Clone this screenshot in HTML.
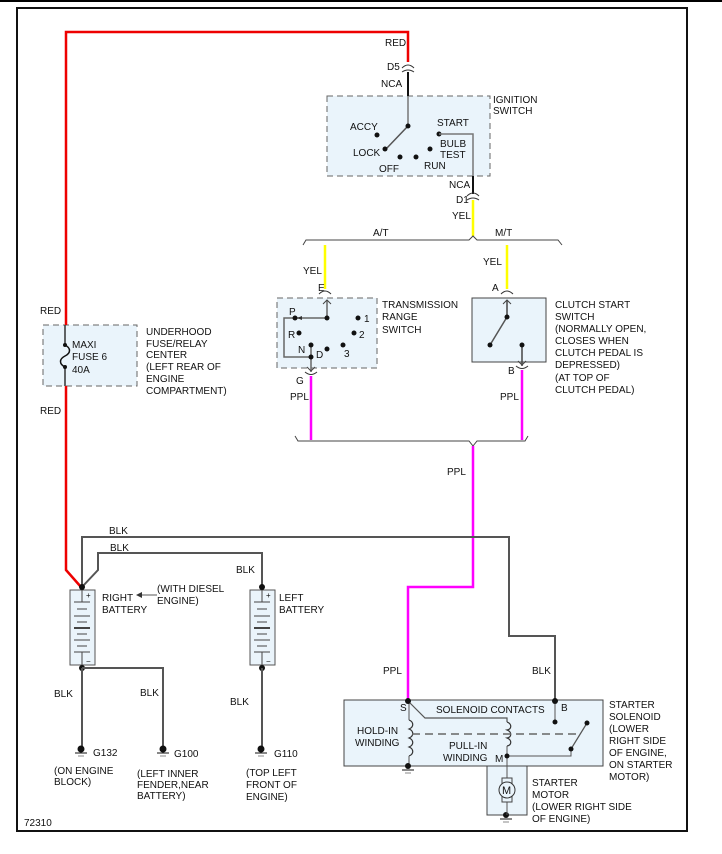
<!DOCTYPE html>
<html><head><meta charset="utf-8"><style>
html,body{margin:0;padding:0;background:#fff}
svg{display:block}
text{font-family:"Liberation Sans",sans-serif;font-size:10px;fill:#111}
</style></head><body>
<svg width="722" height="854" viewBox="0 0 722 854" xmlns="http://www.w3.org/2000/svg">
<rect x="0" y="0" width="722" height="854" fill="#fff"/>
<line x1="0" y1="1" x2="722" y2="1" stroke="#000" stroke-width="2"/>
<rect x="17" y="8" width="670" height="823" fill="none" stroke="#111" stroke-width="2"/>

<!-- boxes -->
<rect x="327" y="96" width="163" height="80" fill="#eaf4fb" stroke="#666" stroke-dasharray="6,4"/>
<rect x="277" y="298" width="100" height="70" fill="#eaf4fb" stroke="#666" stroke-dasharray="6,4"/>
<rect x="472" y="298" width="74" height="64" fill="#eaf4fb" stroke="#444"/>
<rect x="43" y="325" width="94" height="61" fill="#eaf4fb" stroke="#666" stroke-dasharray="6,4"/>
<rect x="344" y="700" width="259" height="66" fill="#eaf4fb" stroke="#444"/>
<rect x="487" y="766" width="40" height="49" fill="#eaf4fb" stroke="#444"/>
<rect x="70" y="590" width="25" height="75" fill="#eaf4fb" stroke="#555"/>
<rect x="250" y="590" width="25" height="75" fill="#eaf4fb" stroke="#555"/>

<!-- red wire -->
<polyline points="408,62 408,32 66,32 66,325" fill="none" stroke="#e00" stroke-width="2.5"/>
<polyline points="66,386 66,570 81,587" fill="none" stroke="#e00" stroke-width="2.5"/>
<line x1="65" y1="325" x2="65" y2="345" stroke="#333" stroke-width="1.5"/>
<path d="M65,345 c6,3 6,8 0,11 c-6,3 -6,8 0,11" fill="none" stroke="#111" stroke-width="1.5"/>
<line x1="65" y1="367" x2="65" y2="386" stroke="#333" stroke-width="1.5"/>
<circle cx="65" cy="345" r="2" fill="#111"/><circle cx="65" cy="367" r="2" fill="#111"/>

<!-- ignition -->
<path d="M402,68 q6,-6 12,0" fill="none" stroke="#333"/><path d="M402,72 q6,-4 12,0" fill="none" stroke="#333"/>
<line x1="408" y1="72" x2="408" y2="96" stroke="#111" stroke-width="2"/>
<line x1="408" y1="96" x2="408" y2="126" stroke="#777" stroke-width="1.5"/>
<line x1="408" y1="126" x2="386" y2="149" stroke="#555" stroke-width="1.5"/>
<g fill="#111"><circle cx="408" cy="126" r="2.5"/><circle cx="377" cy="135" r="2.5"/><circle cx="385" cy="149" r="2.5"/><circle cx="400" cy="157" r="2.5"/><circle cx="416" cy="157" r="2.5"/><circle cx="430" cy="149" r="2.5"/><circle cx="439" cy="134" r="2.5"/></g>
<polyline points="439,134 473,134 473,176" fill="none" stroke="#777" stroke-width="1.5"/>
<line x1="473" y1="176" x2="473" y2="194" stroke="#111" stroke-width="2"/>
<path d="M467,196 q6,-6 12,0" fill="none" stroke="#333"/><path d="M467,200 q6,-4 12,0" fill="none" stroke="#333"/>
<line x1="473" y1="200" x2="473" y2="236" stroke="#ff0" stroke-width="2.5"/>
<text x="385" y="46">RED</text><text x="387" y="70">D5</text><text x="381" y="87">NCA</text>
<text x="493" y="103">IGNITION</text><text x="493" y="114">SWITCH</text>
<text x="350" y="130">ACCY</text><text x="437" y="126">START</text><text x="440" y="147">BULB</text><text x="440" y="158">TEST</text>
<text x="353" y="156">LOCK</text><text x="379" y="172">OFF</text><text x="424" y="169">RUN</text>
<text x="449" y="188">NCA</text><text x="456" y="203">D1</text><text x="452" y="219">YEL</text>

<!-- upper bracket -->
<polyline points="303,245 306,240 469,240 473,236 477,240 558,240 562,245" fill="none" stroke="#444"/>
<text x="373" y="236">A/T</text><text x="495" y="236">M/T</text>

<!-- TRS -->
<line x1="325" y1="245" x2="325" y2="289" stroke="#ff0" stroke-width="2.5"/>
<text x="303" y="274">YEL</text><text x="318" y="291">E</text>
<path d="M319,294 q6,-6 12,0" fill="none" stroke="#333"/>
<line x1="327" y1="300" x2="327" y2="318" stroke="#666" stroke-width="1.5"/>
<path d="M323,304 l4,-4 l4,4" fill="none" stroke="#444"/>
<line x1="327" y1="318" x2="295" y2="318" stroke="#666" stroke-width="1.5"/>
<polygon points="297,318 302,316 302,320" fill="#333"/>
<polyline points="295,318 284,318 284,357 311,357 311,345" fill="none" stroke="#666" stroke-width="1.5"/>
<line x1="311" y1="357" x2="311" y2="372" stroke="#666" stroke-width="1.5"/>
<path d="M307,367 l4,4 l4,-4" fill="none" stroke="#444"/>
<path d="M305,372 q6,5 12,0" fill="none" stroke="#333"/>
<g fill="#111"><circle cx="327" cy="318" r="2.5"/><circle cx="295" cy="318" r="2.5"/><circle cx="358" cy="318" r="2.5"/><circle cx="299" cy="333" r="2.5"/><circle cx="354" cy="333" r="2.5"/><circle cx="311" cy="345" r="2.5"/><circle cx="327" cy="349" r="2.5"/><circle cx="343" cy="345" r="2.5"/><circle cx="311" cy="357" r="2.5"/></g>
<text x="289" y="315">P</text><text x="364" y="322">1</text><text x="288" y="338">R</text><text x="359" y="338">2</text><text x="298" y="353">N</text><text x="316" y="358">D</text><text x="344" y="357">3</text>
<text x="382" y="308">TRANSMISSION</text><text x="382" y="320">RANGE</text><text x="382" y="333">SWITCH</text>
<text x="296" y="384">G</text><text x="290" y="400">PPL</text>
<line x1="311" y1="376" x2="311" y2="440" stroke="#f0f" stroke-width="2.5"/>

<!-- clutch -->
<line x1="507" y1="245" x2="507" y2="289" stroke="#ff0" stroke-width="2.5"/>
<text x="483" y="265">YEL</text><text x="492" y="291">A</text>
<path d="M501,294 q6,-6 12,0" fill="none" stroke="#333"/>
<line x1="507" y1="300" x2="507" y2="317" stroke="#444" stroke-width="1.5"/>
<path d="M503,304 l4,-4 l4,4" fill="none" stroke="#444"/>
<line x1="507" y1="317" x2="490" y2="345" stroke="#555" stroke-width="1.5"/>
<line x1="522" y1="345" x2="522" y2="366" stroke="#444" stroke-width="1.5"/>
<path d="M518,361 l4,4 l4,-4" fill="none" stroke="#444"/>
<path d="M516,366 q6,5 12,0" fill="none" stroke="#333"/>
<g fill="#111"><circle cx="507" cy="317" r="2.5"/><circle cx="490" cy="345" r="2.5"/><circle cx="522" cy="345" r="2.5"/></g>
<text x="508" y="374">B</text><text x="500" y="400">PPL</text>
<line x1="522" y1="370" x2="522" y2="440" stroke="#f0f" stroke-width="2.5"/>
<g><text x="555" y="308">CLUTCH START</text><text x="555" y="320">SWITCH</text><text x="555" y="332">(NORMALLY OPEN,</text><text x="555" y="344">CLOSES WHEN</text><text x="555" y="356">CLUTCH PEDAL IS</text><text x="555" y="368">DEPRESSED)</text><text x="555" y="381">(AT TOP OF</text><text x="555" y="393">CLUTCH PEDAL)</text></g>

<!-- lower bracket -->
<polyline points="295,436 298,441 469,441 473,446 477,441 525,441 528,436" fill="none" stroke="#444"/>
<text x="447" y="475">PPL</text>
<polyline points="473,446 473,587 408,587 408,700" fill="none" stroke="#f0f" stroke-width="2.5"/>
<text x="383" y="674">PPL</text>

<!-- fuse labels -->
<text x="40" y="314">RED</text><text x="40" y="414">RED</text>
<text x="72" y="348">MAXI</text><text x="72" y="360">FUSE 6</text><text x="72" y="373">40A</text>
<g><text x="146" y="335">UNDERHOOD</text><text x="146" y="347">FUSE/RELAY</text><text x="146" y="358">CENTER</text><text x="146" y="370">(LEFT REAR OF</text><text x="146" y="382">ENGINE</text><text x="146" y="394">COMPARTMENT)</text></g>

<!-- BLK wires -->
<polyline points="82,587 82,537 509,537 509,636 555,636 555,700" fill="none" stroke="#555" stroke-width="2"/>
<polyline points="82,587 98,570 98,553 262,553 262,587" fill="none" stroke="#555" stroke-width="2"/>
<text x="109" y="534">BLK</text><text x="110" y="551">BLK</text><text x="236" y="573">BLK</text><text x="532" y="674">BLK</text>

<!-- batteries -->
<g stroke="#444" stroke-width="1">
<line x1="82" y1="590" x2="82" y2="602"/><line x1="74" y1="602" x2="90" y2="602"/><line x1="77" y1="609" x2="87" y2="609"/><line x1="74" y1="616" x2="90" y2="616"/><line x1="77" y1="622" x2="87" y2="622"/><line x1="74" y1="628" x2="90" y2="628" stroke-width="2"/><line x1="77" y1="634" x2="87" y2="634"/><line x1="74" y1="640" x2="90" y2="640"/><line x1="77" y1="646" x2="87" y2="646"/><line x1="74" y1="652" x2="90" y2="652"/><line x1="82" y1="652" x2="82" y2="665"/>
<line x1="262" y1="590" x2="262" y2="602"/><line x1="254" y1="602" x2="270" y2="602"/><line x1="257" y1="609" x2="267" y2="609"/><line x1="254" y1="616" x2="270" y2="616"/><line x1="257" y1="622" x2="267" y2="622"/><line x1="254" y1="628" x2="270" y2="628" stroke-width="2"/><line x1="257" y1="634" x2="267" y2="634"/><line x1="254" y1="640" x2="270" y2="640"/><line x1="257" y1="646" x2="267" y2="646"/><line x1="254" y1="652" x2="270" y2="652"/><line x1="262" y1="652" x2="262" y2="665"/>
</g>
<text x="86" y="598" style="font-size:8px">+</text><text x="86" y="664" style="font-size:8px">−</text>
<text x="266" y="598" style="font-size:8px">+</text><text x="266" y="664" style="font-size:8px">−</text>
<g fill="#111"><circle cx="82" cy="587" r="3"/><circle cx="82" cy="668" r="3"/><circle cx="262" cy="587" r="3"/><circle cx="262" cy="668" r="3"/></g>
<text x="102" y="601">RIGHT</text><text x="102" y="613">BATTERY</text>
<line x1="137" y1="595" x2="157" y2="595" stroke="#555"/><polygon points="136,595 142,592 142,598" fill="#333"/>
<text x="157" y="592">(WITH DIESEL</text><text x="157" y="604">ENGINE)</text>
<text x="279" y="601">LEFT</text><text x="279" y="613">BATTERY</text>

<polyline points="82,668 82,748" fill="none" stroke="#555" stroke-width="2"/>
<polyline points="82,668 163,668 163,748" fill="none" stroke="#555" stroke-width="2"/>
<polyline points="262,668 262,748" fill="none" stroke="#555" stroke-width="2"/>
<text x="54" y="697">BLK</text><text x="140" y="696">BLK</text><text x="230" y="705">BLK</text>
<g fill="#111" stroke="#111">
<circle cx="81" cy="749" r="3"/><line x1="75" y1="753" x2="87" y2="753"/><line x1="78" y1="756" x2="84" y2="756" stroke="#888"/>
<circle cx="163" cy="749" r="3"/><line x1="157" y1="753" x2="169" y2="753"/><line x1="160" y1="756" x2="166" y2="756" stroke="#888"/>
<circle cx="261" cy="749" r="3"/><line x1="255" y1="753" x2="267" y2="753"/><line x1="258" y1="756" x2="264" y2="756" stroke="#888"/>
</g>
<text x="93" y="756">G132</text><text x="174" y="757">G100</text><text x="274" y="757">G110</text>
<text x="54" y="774">(ON ENGINE</text><text x="54" y="785">BLOCK)</text>
<text x="137" y="777">(LEFT INNER</text><text x="137" y="788">FENDER,NEAR</text><text x="137" y="799">BATTERY)</text>
<text x="246" y="776">(TOP LEFT</text><text x="246" y="788">FRONT OF</text><text x="246" y="800">ENGINE)</text>
<text x="24" y="826">72310</text>

<!-- solenoid -->
<polyline points="408,701 425,718 507,718 507,722" fill="none" stroke="#555" stroke-width="1.2"/>
<line x1="409" y1="701" x2="409" y2="720" stroke="#555"/>
<path d="M409,720 c5,2 5,7 0,9 c5,2 5,7 0,9 c5,2 5,7 0,9 c5,2 5,7 0,9" fill="none" stroke="#333" stroke-width="1.2"/>
<line x1="409" y1="756" x2="409" y2="766" stroke="#555"/>
<path d="M507,722 c5,2 5,7 0,8 c5,2 5,7 0,8 c5,2 5,7 0,8" fill="none" stroke="#333" stroke-width="1.2"/>
<line x1="507" y1="746" x2="507" y2="766" stroke="#555"/>
<line x1="412" y1="734" x2="577" y2="734" stroke="#666" stroke-width="1.5" stroke-dasharray="8,5"/>
<line x1="555" y1="701" x2="555" y2="722" stroke="#555"/>
<line x1="571" y1="749" x2="587" y2="723" stroke="#555" stroke-width="1.2"/>
<polyline points="507,756 571,756 571,749" fill="none" stroke="#555"/>
<g fill="#111"><circle cx="408" cy="701" r="3"/><circle cx="555" cy="701" r="3"/><circle cx="555" cy="722" r="2.5"/><circle cx="587" cy="723" r="2.5"/><circle cx="571" cy="749" r="2.5"/><circle cx="507" cy="756" r="2.5"/><circle cx="408" cy="766" r="3"/><circle cx="506" cy="815" r="3"/></g>
<line x1="402" y1="770" x2="414" y2="770" stroke="#111"/><line x1="405" y1="773" x2="411" y2="773" stroke="#888"/>
<line x1="500" y1="819" x2="512" y2="819" stroke="#111"/><line x1="503" y1="822" x2="509" y2="822" stroke="#888"/>
<line x1="507" y1="766" x2="507" y2="815" stroke="#555"/>
<rect x="502" y="778" width="10" height="24" fill="#eaf4fb" stroke="#444"/>
<circle cx="507" cy="790" r="8" fill="#eaf4fb" stroke="#333"/>
<text x="502" y="794" style="font-size:11px">M</text>
<text x="400" y="711">S</text><text x="436" y="713">SOLENOID CONTACTS</text><text x="561" y="711">B</text>
<text x="357" y="734">HOLD-IN</text><text x="355" y="746">WINDING</text>
<text x="449" y="749">PULL-IN</text><text x="443" y="761">WINDING</text><text x="495" y="762">M</text>
<g><text x="609" y="708">STARTER</text><text x="609" y="720">SOLENOID</text><text x="609" y="732">(LOWER</text><text x="609" y="744">RIGHT SIDE</text><text x="609" y="756">OF ENGINE,</text><text x="609" y="768">ON STARTER</text><text x="609" y="780">MOTOR)</text></g>
<text x="532" y="786">STARTER</text><text x="532" y="798">MOTOR</text><text x="532" y="810">(LOWER RIGHT SIDE</text><text x="532" y="822">OF ENGINE)</text>
</svg>
</body></html>
